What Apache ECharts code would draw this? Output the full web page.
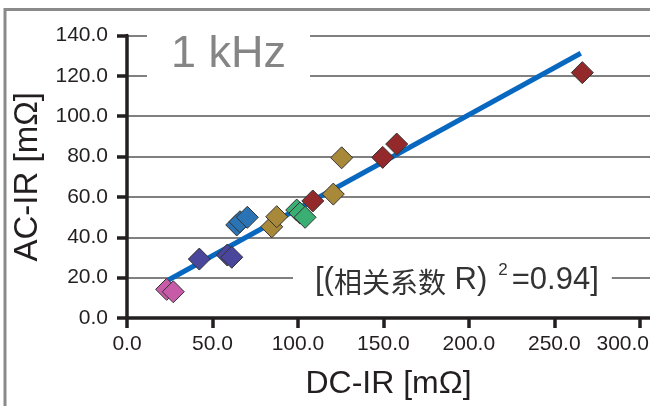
<!DOCTYPE html>
<html>
<head>
<meta charset="utf-8">
<script src="https://cdn.jsdelivr.net/npm/echarts@6/dist/echarts.min.js"></script>
<style>
  html, body { margin: 0; padding: 0; background: #fff; }
  #main { width: 650px; height: 406px; }
</style>
</head>
<body>
<div id="main"></div>
<script>
// data: [DC-IR, AC-IR] in mΩ
var pinkPts = [[23.2, 14.2], [27.1, 13.0]];
var indigoPts = [[42.3, 29.2], [58.7, 31.2], [61.3, 30.1]];
var bluePts = [[64.2, 46.1], [66.1, 47.7], [70.4, 49.9]];
var goldPts = [[84.7, 45.2], [87.6, 50.2], [120.7, 61.4], [125.6, 79.4]];
var greenPts = [[99.3, 53.5], [101.2, 52.0], [104.2, 49.9]];
var redPts = [[108.7, 58.0], [149.6, 79.6], [157.8, 86.2], [266.4, 121.6]];

// fitted line end points
var fitX = [24.2, 265.5];
var fitY = [18.8, 131.2];

var xTicks = [0, 50, 100, 150, 200, 250, 300];
var yTicks = [0, 20, 40, 60, 80, 100, 120, 140];

var FONT = "'Liberation Sans', Arial, 'Noto Sans CJK SC', sans-serif";
var INK = "#231f20";

var chartDom = document.getElementById("main");
var myChart = echarts.init(chartDom);

function diamonds(pts, color) {
    return {
        type: "scatter",
        symbol: "diamond",
        symbolSize: 22,
        itemStyle: { color: color, borderColor: "#333", borderWidth: 1, opacity: 1 },
        data: pts,
        z: 3,
    };
}

var option = {
    backgroundColor: "#fff",
    animation: false,
    graphic: [
        {
            type: "rect",
            z: -10,
            silent: true,
            shape: { x: 5, y: 9.5, width: 700, height: 500 },
            style: { fill: "none", stroke: "#8a8a8a", lineWidth: 3 },
        },
    ],
    title: [
        {
            text: "1 kHz",
            left: 147,
            top: 30,
            backgroundColor: "#fff",
            padding: [2, 24, 6, 24],
            textStyle: { fontSize: 45, color: "#858585", fontWeight: "normal", fontFamily: FONT },
        },
        {
            text: "{a|[(}{c|相关系数}{a| R)}{s|2}{a|=0.94]}",
            left: 293,
            top: 256,
            backgroundColor: "#fff",
            padding: [6, 13, 6, 22],
            textStyle: {
                fontWeight: "normal",
                rich: {
                    a: { fontSize: 31, color: "#333", fontWeight: "normal", fontFamily: FONT, lineHeight: 34, verticalAlign: "bottom" },
                    c: { fontSize: 28, color: "#333", fontWeight: "normal", fontFamily: "'Noto Sans CJK SC', sans-serif", lineHeight: 34, verticalAlign: "bottom" },
                    s: { fontSize: 17, color: "#333", fontWeight: "normal", fontFamily: FONT, lineHeight: 34, verticalAlign: "top", padding: [0, 4, 0, 11] },
                },
            },
        },
    ],
    grid: { left: 127, right: 0, top: 35.5, bottom: 88, outerBoundsMode: "none" },
    xAxis: {
        type: "value",
        min: 0,
        max: 306,
        interval: 50,
        name: "DC-IR [mΩ]",
        nameLocation: "middle",
        nameGap: 50,
        nameTextStyle: { fontSize: 32, color: INK, fontFamily: FONT },
        axisLine: { show: true, lineStyle: { color: INK, width: 3.5 } },
        axisTick: { show: true, length: 10, customValues: xTicks, lineStyle: { color: INK, width: 3.5 } },
        axisLabel: {
            customValues: xTicks,
            formatter: function (v) {
                // last label is pushed left so it stays inside the frame
                return v === 300 ? "{last|" + v.toFixed(1) + "}" : v.toFixed(1);
            },
            rich: {
                last: { fontSize: 21, color: INK, fontFamily: FONT, padding: [0, 34, 0, 0] },
            },
            fontSize: 21,
            color: INK,
            fontFamily: FONT,
            margin: 16,
        },
        splitLine: { show: false },
    },
    yAxis: {
        type: "value",
        min: 0,
        max: 140,
        interval: 20,
        name: "AC-IR [mΩ]",
        nameLocation: "middle",
        nameGap: 77,
        nameTextStyle: { fontSize: 33, color: INK, fontFamily: FONT },
        axisLine: { show: true, lineStyle: { color: INK, width: 3.5 } },
        axisTick: { show: true, length: 10, customValues: yTicks, lineStyle: { color: INK, width: 3.5 } },
        axisLabel: {
            customValues: yTicks,
            formatter: function (v) { return v.toFixed(1); },
            fontSize: 21,
            color: INK,
            fontFamily: FONT,
            margin: 19,
        },
        splitLine: { show: true, lineStyle: { color: "#808080", width: 2 } },
    },
    series: [
        {
            type: "line",
            data: [[fitX[0], fitY[0]], [fitX[1], fitY[1]]],
            showSymbol: false,
            lineStyle: { color: "#0868c0", width: 5 },
            z: 2,
        },
        diamonds(pinkPts, "#c75ba8"),
        diamonds(indigoPts, "#4a469c"),
        diamonds(bluePts, "#2a74b5"),
        diamonds(goldPts, "#a8893a"),
        diamonds(greenPts, "#3aae73"),
        diamonds(redPts, "#93292b"),
    ],
};

option && myChart.setOption(option);
</script>
</body>
</html>
